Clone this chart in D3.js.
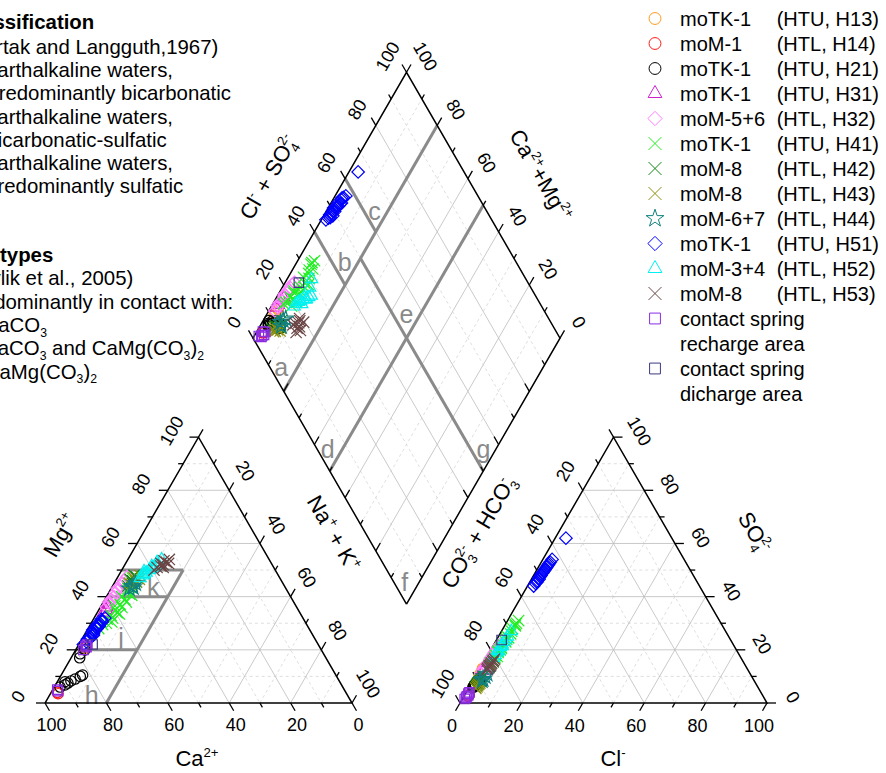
<!DOCTYPE html>
<html>
<head>
<meta charset="utf-8">
<script src="https://cdn.jsdelivr.net/npm/d3@7/dist/d3.min.js"></script>
<style>
  body { margin: 0; background: #fff; }
  svg text { font-family: Arial, "Liberation Sans", Helvetica, sans-serif; fill: #000; }
</style>
</head>
<body>
<svg id="piper" width="886" height="773"></svg>
<script>
// Samples: [Mg, Na+K, SO4, Cl] in meq-%  (Ca = 100 - Mg - NaK, HCO3 = 100 - SO4 - Cl)
const h13 = [[20.5,2.6,11,1],[21,2.9,12.5,1],[21.5,2.6,10,1.2],[20.8,2.7,13,0.8]];
const h14 = [[3.5,2.5,3,1.5],[4,2,2.5,1.5]];
const h21 = [[6,1.9,7,1.5],[6.8,3.1,8,1.5],[7.5,3.7,7.5,2],[8.3,4.3,9,1.8],[9,5.3,8,2],[10,6.5,9.5,2],
             [10.5,7,8.5,2.2],[8,2.5,6,1.5],[17,2.8,6,1.2],[18.5,2.2,6.5,1.3],[20,3,7,1.5]];
const h31 = [[34,2,13,1.5],[35,2.5,16,1.6],[36,2.2,15,1.5],[37,1.8,12,1.3]];
const h32 = [[36,2,11,1.2],[37.5,2.2,12.5,1.3],[38,1.8,13,1.2],[39,2,14,1.4],[40,2.5,15,1.5],[41.5,2.2,16.5,1.5],
             [42.5,2.6,18,1.6],[43,2,17,1.5],[44,2.4,19,1.7],[45,2.8,20,1.7],[46,2.6,21,1.8],[47.5,3,22,2]];
const h41 = [[28,3.5,14,2.4],[29.5,4,15,2.5],[30,5,16,2.7],[30.5,6.5,15.5,3.1],[31.5,4.5,17,2.9],[32,6,18,2.6],
             [33,5,19,2.9],[33.5,7.5,17.5,3.4],[34,6.5,20,3.1],[35,5.5,21,2.9],[36,7,20.5,3.2],[36.5,4.5,19.5,2.7],
             [37,6,22,3],[38,7.5,23,3.4],[39,6.5,24,3.2],[40,5,25,2.9],[40.5,8,24.5,3.6],[41,7,26,3.5],
             [42,6,27,3.3],[43,5.5,28,3.1],[44,6.5,29,3.5],[45,5,30,3.4],[46,5.5,31,3.6],[47,5,29.5,3.3]];
const h42 = [[44,5,7,2],[45,6,8,2.2],[45.5,7,8.5,2.4],[46,5.5,6.5,2],[46.5,4.5,6,1.9],[47,6.5,9,2.3],[47.5,6,10,2.5],[48,5,7.5,2.1]];
const h43 = [[44.5,6,6,2.5],[45,5,6.5,2.5],[46,6.5,7,2.6],[46.5,7.5,7.5,2.7],[47,5.5,5.5,2.4],[48,7,8,2.8]];
const h44 = [[43,6,9,3],[43.5,7,11,3.3],[44,6.5,10,3.2],[45,7,8.5,3]];
const h51 = [[22,1.5,44,2],[23,2,45,2.1],[24,1.8,46,2.2],[24.5,2.5,45.5,2.3],[25,2.2,47,2.2],[25.5,3,46.5,2.5],
             [26,2.8,48,2.4],[26.5,2,47.5,2.3],[27,2.6,49,2.5],[27.5,1.8,48.5,2.2],[28,3,50,2.6],[28.5,2.4,49.5,2.5],
             [29,3.2,51,2.7],[29.5,2.2,50.5,2.6],[30,2.8,52,2.8],[30.5,3.4,51.5,2.7],[31,3,53,2.9],[31.5,2.6,52.5,2.8],
             [32,3.5,54,3],[29,3,62,3.5]];
const h52 = [[47,7.5,18,2.5],[48,8,19,2.6],[48.5,8,27,3.2],[49,8.5,20,2.5],[49.5,7.5,17,2.4],[50,9,21,2.7],
             [50.5,9.5,19.5,2.8],[51,10,22,2.8],[51.5,9,25,3],[52,10.5,23,2.9],[53,10,21.5,3],[54,11,24,3]];
const h53 = [[50,10.5,13,2.5],[51,11,14,2.6],[51,13,12.5,2.6],[51.5,12,15,2.8],[52,12.5,13.5,2.7],[52.5,11.5,16,2.9],
             [52.5,14,14,2.9],[53,13,14.5,2.8],[53.5,12,15.5,3],[54,13.5,16.5,3]];
const recharge = [[20,2.5,2,1],[21,3,3,1.2],[21.5,2.5,2.5,1],[22,2.8,4,1.1],[5,1.5,1.5,0.8],[4.5,2,3.5,1]];
const discharge = [[22,4.5,23.7,1.7]];

const seriesData = [h13, h14, h21, h31, h32, h41, h42, h43, h44, h51, h52, h53, recharge, discharge];
const seriesNames = ["moTK-1","moM-1","moTK-1","moTK-1","moM-5+6","moTK-1","moM-8","moM-8","moM-6+7",
                     "moTK-1","moM-3+4","moM-8","contact spring","contact spring"];
const seriesCodes = ["(HTU, H13)","(HTL, H14)","(HTU, H21)","(HTU, H31)","(HTL, H32)","(HTU, H41)","(HTL, H42)",
                     "(HTL, H43)","(HTL, H44)","(HTU, H51)","(HTL, H52)","(HTL, H53)","recharge area","dicharge area"];
const seriesColors = ["#ff9a1a","#ff1a1a","#000000","#cc22cc","#ff80ff","#22ee22","#118811","#8f8f10",
                      "#108080","#0000ff","#00f0f0","#6b4545","#8a2be2","#3a3a80"];
const seriesShapes = ["circle","circle","circle","triangle","diamond","times","times","times","star",
                      "diamond","triangle","times","square","square"];

// classification boundaries
const diamondZones = [[[80,0],[80,100]],[[50,0],[50,100]],[[100,40],[80,40]],[[100,60],[80,60]],[[80,50],[0,50]]]; // [u=Ca+Mg, v=Cl+SO4]
const cationZones = [[[80,0,20],[30,50,20]],[[50,50,0],[30,50,20]],[[60,40,0],[40,40,20]],[[80,20,0],[60,20,20]]]; // [Ca,Mg,NaK]
const tickAll = d3.range(0, 101, 10);

const svg = d3.select("#piper");
const pct = d3.scaleLinear().domain([0, 100]).range([0, 1]);
const side = 307, h = side * Math.sqrt(3) / 2;

const cat = [[45, 703], [45 + side / 2, 703 - h], [45 + side, 703]];      // Ca, Mg, Na+K
const ani = [[460, 703], [460 + side / 2, 703 - h], [460 + side, 703]];   // HCO3, SO4, Cl
const dB = [406.5, 604], dL = [dB[0] - side / 2, dB[1] - h], dR = [dB[0] + side / 2, dB[1] - h], dT = [dB[0], dB[1] - 2 * h];

const tern = (V, p) => [0, 1].map(i => pct(p[0]) * V[0][i] + pct(p[1]) * V[1][i] + pct(p[2]) * V[2][i]);
const dia = (u, v) => [0, 1].map(i => dB[i] + pct(u) * (dL[i] - dB[i]) + pct(v) * (dR[i] - dB[i]));
const unit = (a, b) => { const dx = b[0] - a[0], dy = b[1] - a[1], l = Math.hypot(dx, dy); return [dx / l, dy / l]; };
const line = d3.line();

const gGrid = svg.append("g"), gZone = svg.append("g"), gAxes = svg.append("g"), gPts = svg.append("g");

function gridLine(a, b, k) {
  gGrid.append("path").attr("d", line([a, b]))
    .attr("fill", "none")
    .attr("stroke", k % 20 === 0 ? "#bdbdbd" : "#d6d6d6")
    .attr("stroke-width", 0.8)
    .attr("stroke-dasharray", k % 20 === 0 ? null : "3,3");
}

// Grids
d3.range(10, 100, 10).forEach(k => {
  [cat, ani].forEach(V => {
    for (let i = 0; i < 3; i++) {
      const a = [0, 0, 0], b = [0, 0, 0];
      a[i] = k; a[(i + 1) % 3] = 100 - k;
      b[i] = k; b[(i + 2) % 3] = 100 - k;
      gridLine(tern(V, a), tern(V, b), k);
    }
  });
  gridLine(dia(k, 0), dia(k, 100), k);
  gridLine(dia(0, k), dia(100, k), k);
});

// Classification lines
diamondZones.forEach(z => gZone.append("path").attr("d", line(z.map(p => dia(p[0], p[1])))));
cationZones.forEach(z => gZone.append("path").attr("d", line(z.map(p => tern(cat, p)))));
gZone.selectAll("path").attr("fill", "none").attr("stroke", "#8a8a8a").attr("stroke-width", 3);

const zoneLabels = [
  ["a", dia(85.3, 3.7)], ["b", dia(84.4, 44.2)], ["c", dia(84.4, 63.6)], ["e", dia(54.6, 54.6)],
  ["d", dia(54.9, 3.5)], ["g", dia(4.1, 54.3)], ["f", dia(4.7, 3.6)],
  ["h", tern(cat, [83.3, 3, 13.7])], ["j", tern(cat, [62.8, 24.8, 12.4])], ["k", tern(cat, [42.9, 43.7, 13.4])]
];
zoneLabels.forEach(([t, p]) => gZone.append("text")
  .attr("x", p[0]).attr("y", p[1]).attr("dy", "0.36em")
  .attr("text-anchor", "middle")
  .style("font-size", "25px").style("fill", "#8a8a8a")
  .text(t));

// Outlines
[[...cat, cat[0]], [...ani, ani[0]], [dB, dL, dT, dR, dB]].forEach(pts =>
  gAxes.append("path").attr("d", line(pts)).attr("fill", "none").attr("stroke", "#000").attr("stroke-width", 1.5));

// Ticks and tick labels
const axisSpecs = [
  { pt: k => tern(cat, [k, 0, 100 - k]), dir: unit(cat[1], cat[2]), ticks: tickAll, labels: d3.range(0, 101, 20), off: [6.5, 22], rot: 0 },
  { pt: k => tern(cat, [100 - k, k, 0]), dir: unit(cat[2], cat[0]), ticks: tickAll, labels: d3.range(0, 101, 20), off: [-27, -6.5], rot: -60 },
  { pt: k => tern(cat, [0, 100 - k, k]), dir: unit(cat[0], cat[1]), ticks: tickAll, labels: d3.range(20, 101, 20), off: [16.5, -19.5], rot: 60 },
  { pt: k => tern(ani, [100 - k, 0, k]), dir: unit(ani[1], ani[0]), ticks: tickAll, labels: d3.range(0, 101, 20), off: [-8, 23], rot: 0 },
  { pt: k => tern(ani, [0, k, 100 - k]), dir: unit(ani[0], ani[2]), ticks: tickAll, labels: d3.range(0, 101, 20), off: [26, -6], rot: 60 },
  { pt: k => tern(ani, [k, 100 - k, 0]), dir: unit(ani[2], ani[1]), ticks: tickAll, labels: d3.range(20, 101, 20), off: [-17.7, -19.4], rot: -60 },
  { pt: k => dia(100, k), dir: unit(dB, dL), ticks: tickAll, labels: d3.range(0, 101, 20), off: [-19, -16], rot: -60 },
  { pt: k => dia(k, 100), dir: unit(dB, dR), ticks: tickAll, labels: d3.range(0, 101, 20), off: [19, -16], rot: 60 },
  { pt: k => dia(k, 0), dir: unit(dB, dR), ticks: d3.range(10, 100, 10), labels: [] },
  { pt: k => dia(0, k), dir: unit(dB, dL), ticks: d3.range(10, 100, 10), labels: [] }
];

axisSpecs.forEach(ax => {
  ax.ticks.forEach(k => {
    const p = ax.pt(k), len = k % 20 === 0 ? 9 : 5;
    gAxes.append("path").attr("d", line([p, [p[0] + ax.dir[0] * len, p[1] + ax.dir[1] * len]]))
      .attr("stroke", "#000").attr("stroke-width", 1.3);
  });
  ax.labels.forEach(k => {
    const p = ax.pt(k);
    gAxes.append("text")
      .attr("transform", `translate(${p[0] + ax.off[0]},${p[1] + ax.off[1]}) rotate(${ax.rot})`)
      .attr("text-anchor", "middle").attr("dy", "0.36em")
      .style("font-size", "18px")
      .text(k);
  });
});

// Rich text helper (super/subscripts)
function richText(parent, parts, size, anchor) {
  const t = parent.append("text").attr("text-anchor", anchor || "middle").style("font-size", size + "px");
  let shift = 0;
  parts.forEach(p => {
    const target = p.sup ? -0.42 * size : p.sub ? 0.24 * size : 0;
    const ts = t.append("tspan").attr("dy", target - shift).text(p.t);
    if (p.sup || p.sub) ts.style("font-size", (0.6 * size) + "px");
    if (p.dx) ts.attr("dx", p.dx);
    if (p.bold) ts.style("font-weight", "bold");
    shift = target;
  });
  return t;
}

const titles = [
  { x: 268, y: 177, rot: -60, parts: [{ t: "Cl" }, { t: "-", sup: 1 }, { t: " + SO" }, { t: "4", sub: 1 }, { t: "2-", sup: 1, dx: -8 }] },
  { x: 541, y: 175, rot: 60, parts: [{ t: "Ca" }, { t: "2+", sup: 1 }, { t: "+Mg" }, { t: "2+", sup: 1 }] },
  { x: 60, y: 535, rot: -60, parts: [{ t: "Mg" }, { t: "2+", sup: 1 }] },
  { x: 334, y: 533, rot: 60, parts: [{ t: "Na" }, { t: "+", sup: 1 }, { t: " + K" }, { t: "+", sup: 1 }] },
  { x: 197, y: 758, rot: 0, parts: [{ t: "Ca" }, { t: "2+", sup: 1 }] },
  { x: 478, y: 532, rot: -60, parts: [{ t: "CO" }, { t: "3", sub: 1 }, { t: "2-", sup: 1, dx: -8 }, { t: " + HCO" }, { t: "3", sub: 1 }, { t: "-", sup: 1, dx: -7 }] },
  { x: 755, y: 532, rot: 60, parts: [{ t: "SO" }, { t: "4", sub: 1 }, { t: "2-", sup: 1, dx: -8 }] },
  { x: 613, y: 758, rot: 0, parts: [{ t: "Cl" }, { t: "-", sup: 1 }] }
];
titles.forEach(tt => {
  const g = svg.append("g").attr("transform", `translate(${tt.x},${tt.y}) rotate(${tt.rot})`);
  richText(g, tt.parts, 22).attr("y", 8);
});

// Data markers
const shapeType = { circle: d3.symbolCircle, triangle: d3.symbolTriangle2, diamond: d3.symbolDiamond2, times: d3.symbolTimes, star: d3.symbolStar, square: d3.symbolSquare2 };
const shapeSize = { circle: 85, triangle: 105, diamond: 100, times: 85, star: 75, square: 115 };
const symbolPath = (shape, scale) => d3.symbol().type(shapeType[shape]).size(shapeSize[shape] * (scale || 1))();

seriesData.forEach((rows, i) => {
  const d = symbolPath(seriesShapes[i]);
  rows.forEach(([mg, na, so4, cl]) => {
    const ca = 100 - mg - na, hco3 = 100 - so4 - cl;
    [tern(cat, [ca, mg, na]), tern(ani, [hco3, so4, cl]), dia(100 - na, so4 + cl)].forEach(p => {
      gPts.append("path").attr("d", d)
        .attr("transform", `translate(${p[0]},${p[1]})`)
        .attr("fill", "none").attr("stroke", seriesColors[i]).attr("stroke-width", 1.2);
    });
  });
});

// Legend
const gLeg = svg.append("g");
seriesNames.forEach((name, i) => {
  const row = i < 12 ? i : (i === 12 ? 12 : 14);
  const y = 18.5 + 25 * row;
  gLeg.append("path").attr("d", symbolPath(seriesShapes[i], 1.3))
    .attr("transform", `translate(655,${y})`)
    .attr("fill", "none").attr("stroke", seriesColors[i]).attr("stroke-width", 1);
  gLeg.append("text").attr("x", 680).attr("y", y).attr("dy", "0.36em").style("font-size", "20px").text(name);
  if (i < 12) {
    gLeg.append("text").attr("x", 776.7).attr("y", y).attr("dy", "0.36em").style("font-size", "20px").text(seriesCodes[i]);
  } else {
    gLeg.append("text").attr("x", 680).attr("y", y + 25).attr("dy", "0.36em").style("font-size", "20px").text(seriesCodes[i]);
  }
});

// Classification notes (clipped at the left edge as in the figure)
const notes = [
  { r: 94.3, y: 21.7, parts: [{ t: "Classification", bold: 1 }] },
  { r: 218.3, y: 46.7, parts: [{ t: "(Furtak and Langguth,1967)" }] },
  { r: 173, y: 70, parts: [{ t: "a: earthalkaline waters," }] },
  { r: 231, y: 93.3, parts: [{ t: "predominantly bicarbonatic" }] },
  { r: 173, y: 116.7, parts: [{ t: "b: earthalkaline waters," }] },
  { r: 166.7, y: 140, parts: [{ t: "bicarbonatic-sulfatic" }] },
  { r: 173, y: 163.3, parts: [{ t: "c: earthalkaline waters," }] },
  { r: 183.3, y: 186, parts: [{ t: "predominantly sulfatic" }] },
  { r: 53.3, y: 255, parts: [{ t: "Water types", bold: 1 }] },
  { r: 133.3, y: 278.3, parts: [{ t: "(Havlik et al., 2005)" }] },
  { r: 233.3, y: 301.7, parts: [{ t: "predominantly in contact with:" }] },
  { r: 47, y: 325, parts: [{ t: "CaCO" }, { t: "3", sub: 1 }] },
  { r: 204, y: 348.3, parts: [{ t: "CaCO" }, { t: "3", sub: 1 }, { t: " and CaMg(CO" }, { t: "3", sub: 1 }, { t: ")" }, { t: "2", sub: 1 }] },
  { r: 97, y: 371.5, parts: [{ t: "CaMg(CO" }, { t: "3", sub: 1 }, { t: ")" }, { t: "2", sub: 1 }] }
];
notes.forEach(n => {
  const g = svg.append("g").attr("transform", `translate(${n.r},${n.y})`);
  richText(g, n.parts, 20.4, "end").attr("y", 7);
});
</script>
</body>
</html>
